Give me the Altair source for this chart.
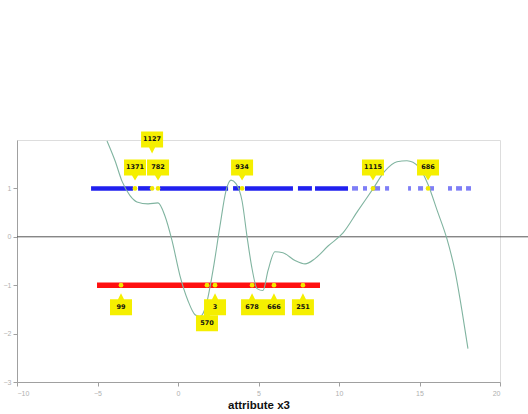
import altair as alt
import pandas as pd

# Fitted response curve over attribute x3 (digitised knots, drawn with monotone interpolation)
curve_x = [-4.41, -3.91, -3.48, -2.98, -2.55, -1.86, -1.24, -0.81, -0.37, 0.12, 0.62,
           1.06, 1.37, 1.74, 2.17, 2.61, 2.98, 3.29, 3.60, 3.98, 4.29, 4.60, 4.91,
           5.28, 5.59, 6.02, 6.52, 7.27, 7.89, 8.51, 9.32, 10.25, 11.18, 12.11,
           12.86, 13.60, 14.22, 14.97, 15.53, 16.09, 16.71, 17.20, 17.64, 18.01]
curve_y = [1.98, 1.57, 1.15, 0.85, 0.72, 0.68, 0.70, 0.43, -0.08, -0.80, -1.32,
           -1.61, -1.65, -1.42, -0.70, 0.23, 0.95, 1.17, 1.10, 0.74, 0.00, -0.66, -1.07,
           -1.11, -0.70, -0.31, -0.33, -0.49, -0.56, -0.45, -0.19, 0.08, 0.54, 0.99,
           1.36, 1.55, 1.57, 1.44, 1.08, 0.55, -0.05, -0.70, -1.53, -2.31]

# Observations of class +1 (blue) and class -1 (red), as runs along x3
blue_start = [-5.40, -2.48, -1.12, 3.42, 4.16, 7.45, 8.51, 10.81, 11.49, 12.05, 12.86,
              14.29, 14.91, 15.65, 16.77, 17.27, 17.89]
blue_end = [-2.80, -1.68, 3.11, 3.85, 7.14, 8.32, 10.56, 11.18, 11.74, 12.55, 13.11,
            14.47, 15.22, 15.90, 17.02, 17.64, 18.20]
red_start = [-5.03]
red_end = [8.82]

# Identified observations
blue_ids = ["1371", "1127", "782", "934", "1115", "686"]
blue_id_x = [-2.67, -1.61, -1.24, 3.98, 12.11, 15.53]
blue_tier = [1, 2, 1, 1, 1, 1]
red_ids = ["99", "570", "3", "678", "666", "251"]
red_id_x = [-3.54, 1.80, 2.30, 4.60, 5.96, 7.76]
red_tier = [1, 2, 1, 1, 1, 1]

x_ticks = [-10, -5, 0, 5, 10, 15, 20]
y_ticks = [-3, -2, -1, 0, 1]

curve_df = pd.DataFrame({"x3": curve_x, "f": curve_y})
blue_df = pd.DataFrame({"a": blue_start, "b": blue_end, "cls": [1] * len(blue_start)})
red_df = pd.DataFrame({"a": red_start, "b": red_end, "cls": [-1] * len(red_start)})
ids_df = pd.DataFrame({
    "x3": blue_id_x + red_id_x,
    "label": blue_ids + red_ids,
    "cls": [1] * len(blue_ids) + [-1] * len(red_ids),
    "tier": blue_tier + red_tier,
})
zero_df = pd.DataFrame({"a": [-10], "b": [21.74], "y": [0]})

xs = alt.Scale(domain=[-10, 20], nice=False)
ys = alt.Scale(domain=[-3, 2], nice=False)

x_axis = alt.Axis(values=x_ticks, title="attribute x3", grid=False, labelFontSize=7,
                  labelColor="#b0b0b0", domainColor="#a0a0a0", tickColor="#a0a0a0",
                  tickSize=4, titleFontSize=11.5, titleFontWeight="bold", titleColor="#111111",
                  titlePadding=3, labelPadding=3)
y_axis = alt.Axis(values=y_ticks, title=None, grid=False, labelFontSize=7,
                  labelColor="#b0b0b0", domainColor="#a0a0a0", tickColor="#a0a0a0",
                  tickSize=4, labelPadding=2)

zero_line = alt.Chart(zero_df).mark_rule(color="#555555", strokeWidth=1, clip=False).encode(
    x=alt.X("a:Q", scale=xs, axis=x_axis), x2="b:Q",
    y=alt.Y("y:Q", scale=ys, axis=y_axis),
)

# the sparse tail of the blue class is drawn lighter
blue_runs = alt.Chart(blue_df).mark_rule(color="#1414ee", strokeWidth=4.5).encode(
    x=alt.X("a:Q", scale=xs), x2="b:Q", y=alt.Y("cls:Q", scale=ys),
    opacity=alt.condition(alt.datum.a > 10.6, alt.value(0.55), alt.value(0.95)),
)
red_runs = alt.Chart(red_df).mark_rule(color="#ff1010", strokeWidth=5.5).encode(
    x=alt.X("a:Q", scale=xs), x2="b:Q", y=alt.Y("cls:Q", scale=ys)
)

curve = alt.Chart(curve_df).mark_line(color="#80b4a0", strokeWidth=1.1,
                                      interpolate="monotone").encode(
    x=alt.X("x3:Q", scale=xs), y=alt.Y("f:Q", scale=ys)
)

dots = alt.Chart(ids_df).mark_point(filled=True, color="#f2e800", size=22, opacity=1).encode(
    x=alt.X("x3:Q", scale=xs), y=alt.Y("cls:Q", scale=ys)
)

# callout balloons: box plus pointer, tip sitting on the observation
shapes = {
    (1, 1): "M-11,-29H11V-13H3L0,-8L-3,-13H-11Z",
    (1, 2): "M-11,-57H11V-41H3L0,-35L-3,-41H-11Z",
    (-1, 1): "M-11,30H11V14H3L0,8L-3,14H-11Z",
    (-1, 2): "M-11,46H11V30H3L0,24L-3,30H-11Z",
}
text_dy = {(1, 1): -21, (1, 2): -49, (-1, 1): 22, (-1, 2): 38}

callouts = []
for (c, t), path in shapes.items():
    sel = (alt.datum.cls == c) & (alt.datum.tier == t)
    box = alt.Chart(ids_df).transform_filter(sel).mark_point(
        shape=path, size=4, filled=True, color="#f5ef00", opacity=1, strokeWidth=0
    ).encode(x=alt.X("x3:Q", scale=xs), y=alt.Y("cls:Q", scale=ys))
    txt = alt.Chart(ids_df).transform_filter(sel).mark_text(
        dy=text_dy[(c, t)], fontSize=6.5, fontWeight="bold", color="#111111",
        font="DejaVu Sans"
    ).encode(x=alt.X("x3:Q", scale=xs), y=alt.Y("cls:Q", scale=ys), text="label:N")
    callouts += [box, txt]

chart = alt.layer(zero_line, blue_runs, red_runs, curve, dots, *callouts).properties(
    width=483, height=242,
    padding={"left": 17, "top": 140, "right": 28, "bottom": 32},
    autosize=alt.AutoSizeParams(type="none"),
).configure_view(stroke=None).configure(background="white")

chart.save("out.html", embed_options={"renderer": "svg", "actions": False})
